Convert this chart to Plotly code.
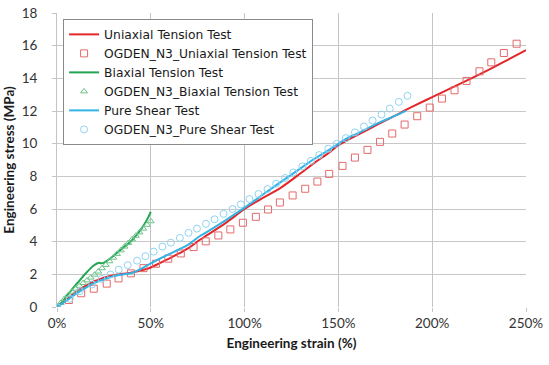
import plotly.graph_objects as go

# Uniaxial tension test (line)
uni_x = [0, 5, 10, 15, 20, 25, 30, 35, 40, 45, 50, 55, 60, 65, 70, 76, 80, 90, 100, 110, 119, 130, 137, 145, 150, 155, 160, 170, 180, 186, 190, 200, 210, 220, 230, 240, 250]
uni_y = [0, 0.45, 0.92, 1.28, 1.58, 1.8, 1.94, 2.03, 2.12, 2.25, 2.42, 2.7, 2.98, 3.28, 3.6, 4.1, 4.4, 5.15, 6.0, 6.7, 7.28, 8.2, 8.81, 9.45, 9.9, 10.22, 10.52, 11.12, 11.7, 12.07, 12.3, 12.85, 13.4, 13.95, 14.52, 15.12, 15.72]

# OGDEN N3 uniaxial (squares)
ogu_x = [0, 6.3, 12.9, 19.6, 26.5, 32.8, 39.4, 46.1, 52.8, 59.3, 66.0, 72.8, 79.3, 86.0, 92.4, 99.1, 106.0, 112.5, 118.8, 125.6, 132.3, 138.8, 145.1, 152.2, 158.8, 165.5, 172.2, 178.7, 185.3, 192.0, 198.7, 205.2, 211.9, 218.3, 225.2, 231.5, 238.2, 245.0]
ogu_y = [0, 0.43, 0.84, 1.12, 1.43, 1.75, 2.06, 2.38, 2.65, 2.96, 3.28, 3.67, 4.02, 4.38, 4.75, 5.16, 5.52, 5.97, 6.40, 6.83, 7.24, 7.68, 8.15, 8.64, 9.15, 9.62, 10.11, 10.62, 11.17, 11.68, 12.21, 12.76, 13.27, 13.84, 14.43, 14.98, 15.55, 16.12]

# Biaxial tension test (line)
bi_x = [0, 3, 6, 9, 12, 15, 18, 20, 22, 24, 26, 28, 30, 33, 36, 39, 42, 45, 48, 50]
bi_y = [0, 0.35, 0.8, 1.22, 1.62, 2.02, 2.38, 2.57, 2.7, 2.68, 2.78, 2.94, 3.12, 3.42, 3.7, 3.98, 4.35, 4.8, 5.35, 5.82]

# OGDEN N3 biaxial (triangles)
ogb_x = [0, 2, 4, 6, 8, 10, 12, 14, 16, 18, 20, 22, 24, 26, 28, 30, 32, 34, 36, 38, 40, 42, 44, 46, 48, 50]
ogb_y = [0, 0.25, 0.5, 0.73, 0.94, 1.12, 1.3, 1.47, 1.63, 1.8, 1.98, 2.17, 2.37, 2.58, 2.8, 3.02, 3.25, 3.47, 3.7, 3.92, 4.14, 4.36, 4.57, 4.8, 5.03, 5.25]

# Pure shear test (line)
ps_x = [0, 5, 10, 15, 20, 25, 30, 35, 40, 45, 50, 55, 60, 65, 70, 76, 80, 90, 100, 110, 119, 130, 137, 145, 150, 154, 160, 172, 180, 186]
ps_y = [0, 0.38, 0.8, 1.16, 1.48, 1.7, 1.88, 1.99, 2.08, 2.35, 2.67, 2.97, 3.25, 3.52, 3.82, 4.33, 4.6, 5.32, 6.08, 6.9, 7.63, 8.5, 9.06, 9.62, 9.99, 10.3, 10.62, 11.3, 11.7, 12.01]

# OGDEN N3 pure shear (circles)
ogs_x = [0, 6.8, 12.1, 18.7, 23.7, 28.5, 32.9, 37.7, 42.7, 47.1, 51.5, 56.2, 60.7, 65.5, 70.1, 74.6, 79.4, 84.0, 88.8, 93.6, 98.0, 102.6, 107.4, 112.2, 116.8, 121.6, 126.0, 130.8, 135.4, 139.8, 144.6, 149.1, 154.0, 158.8, 163.6, 168.2, 173.0, 177.4, 182.2, 186.8]
ogs_y = [0, 0.50, 0.97, 1.38, 1.72, 1.99, 2.29, 2.56, 2.84, 3.11, 3.39, 3.70, 3.94, 4.23, 4.54, 4.80, 5.09, 5.37, 5.70, 6.00, 6.28, 6.61, 6.92, 7.22, 7.55, 7.90, 8.24, 8.61, 8.95, 9.30, 9.69, 9.99, 10.34, 10.69, 11.05, 11.42, 11.78, 12.15, 12.56, 12.93]

x_ticks = [0, 50, 100, 150, 200, 250]
x_labels = ["0%", "50%", "100%", "150%", "200%", "250%"]
y_ticks = [0, 2, 4, 6, 8, 10, 12, 14, 16, 18]

RED = "#e3262b"
RED_M = "#e46a6a"
GREEN = "#22a653"
GREEN_M = "#6cc48a"
BLUE = "#33b3e6"
BLUE_M = "#8fd3f0"

fig = go.Figure()
fig.add_trace(go.Scatter(x=uni_x, y=uni_y, mode="lines", name="Uniaxial Tension Test",
                         line=dict(color=RED, width=2, shape="spline")))
fig.add_trace(go.Scatter(x=ogu_x, y=ogu_y, mode="markers", name="OGDEN_N3_Uniaxial Tension Test",
                         marker=dict(symbol="square-open", size=7, color=RED_M, line=dict(width=1))))
fig.add_trace(go.Scatter(x=bi_x, y=bi_y, mode="lines", name="Biaxial Tension Test",
                         line=dict(color=GREEN, width=2, shape="spline")))
fig.add_trace(go.Scatter(x=ogb_x, y=ogb_y, mode="markers", name="OGDEN_N3_Biaxial Tension Test",
                         marker=dict(symbol="triangle-up-open", size=6, color=GREEN_M, line=dict(width=1))))
fig.add_trace(go.Scatter(x=ps_x, y=ps_y, mode="lines", name="Pure Shear Test",
                         line=dict(color=BLUE, width=2, shape="spline")))
fig.add_trace(go.Scatter(x=ogs_x, y=ogs_y, mode="markers", name="OGDEN_N3_Pure Shear Test",
                         marker=dict(symbol="circle-open", size=7, color=BLUE_M, line=dict(width=1))))

FONT = "Lato, 'Open Sans', sans-serif"
LFONT = "'DejaVu Sans', 'Open Sans', sans-serif"
fig.update_layout(
    width=549, height=365,
    margin=dict(l=56.5, r=22.7, t=13, b=57.5),
    paper_bgcolor="white", plot_bgcolor="white",
    font=dict(family=FONT, size=13, color="#222222"),
    showlegend=True,
    legend=dict(x=0.013, y=0.98, xanchor="left", yanchor="top",
                bgcolor="white", bordercolor="#8a8a8a", borderwidth=1,
                font=dict(family=LFONT, size=12.3, color="#1a1a1a"),
                itemwidth=30, tracegroupgap=0),
    xaxis=dict(range=[0, 250], tickvals=x_ticks, ticktext=x_labels,
               automargin=False,
               showgrid=True, gridcolor="#c4c4c4", gridwidth=1,
               zeroline=False, showline=False,
               ticks="outside", ticklen=4, tickcolor="#c4c4c4",
               tickfont=dict(family=FONT, size=13.5, color="#333333"),
               title=dict(text="<b>Engineering strain (%)</b>", standoff=8,
                          font=dict(family=FONT, size=13.5, color="#1a1a1a"))),
    yaxis=dict(range=[0, 18], tickvals=y_ticks,
               automargin=False,
               showgrid=True, gridcolor="#c8c8c8", gridwidth=1,
               zeroline=False, showline=True, linecolor="#c4c4c4",
               ticks="outside", ticklen=4, tickcolor="#c4c4c4",
               ticklabelstandoff=12,
               tickfont=dict(family=FONT, size=13.5, color="#333333"),
               title=dict(text="<b>Engineering stress (MPa)</b>", standoff=3,
                          font=dict(family=FONT, size=13.5, color="#1a1a1a"))),
)

fig.write_html("out.html", config={"displayModeBar": False},
               post_script="document.body.style.margin='0px';")
